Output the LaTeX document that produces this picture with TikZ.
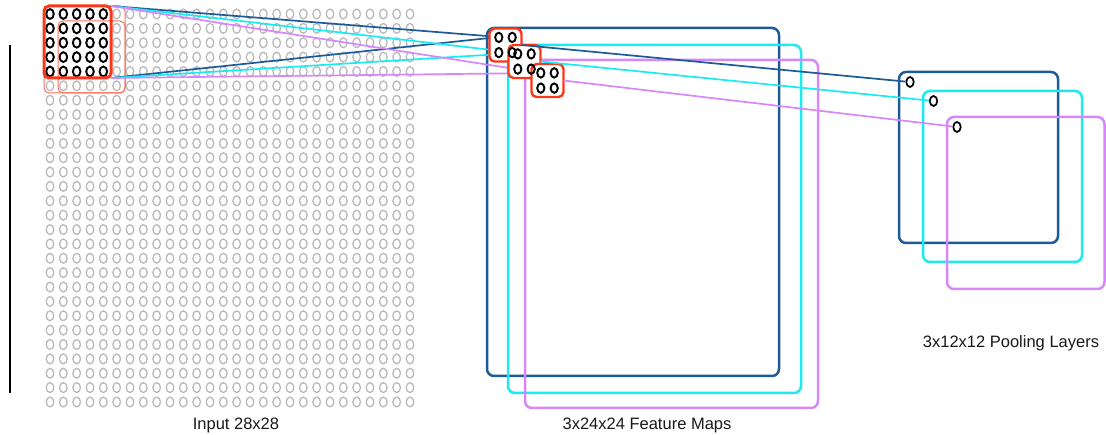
\documentclass[tikz,border=0pt]{standalone}
\usepackage{fontspec}
\setmainfont{Liberation Sans}
\usetikzlibrary{shapes.geometric}
\definecolor{fmblue}{RGB}{30,90,150}
\definecolor{fmcyan}{RGB}{25,235,240}
\definecolor{fmviolet}{RGB}{214,135,250}
\definecolor{winred}{RGB}{250,55,25}
\definecolor{thinred}{RGB}{252,110,90}
\definecolor{ringgray}{RGB}{185,185,185}
\definecolor{txt}{RGB}{25,25,25}
\begin{document}
\begin{tikzpicture}[x=1pt,y=-1pt,
  mapbox/.style={draw, line width=2.5pt, rounded corners=7pt},
  ring/.style={draw=ringgray, line width=1.3pt},
  blackring/.style={draw=black, line width=1.9pt},
  inwin/.style={draw=winred, line width=3pt, rounded corners=5pt, inner sep=0pt, outer sep=0pt},
  thinwin/.style={draw=thinred, line width=1pt, rounded corners=5pt, inner sep=0pt, outer sep=0pt},
  fwin/.style={draw=winred, fill=white, line width=2.4pt, rounded corners=5pt, inner sep=0pt, outer sep=0pt, minimum width=32pt, minimum height=33pt},
  unit/.style={ellipse, draw=black, line width=1.7pt, minimum width=7.5pt, minimum height=10pt, inner sep=0pt},
  link/.style={line width=1.7pt},
  lbl/.style={text=txt, font=\fontsize{16.5pt}{19pt}\selectfont, inner sep=0pt}
]
\useasboundingbox (0,0) rectangle (1106,435);

% left bar
\draw[line width=1.3pt] (10,45) -- (10,393);

% feature maps
\draw[mapbox, fmblue] (487,28) rectangle (779,376);
\draw[mapbox, fmcyan] (508,45) rectangle (801,393);
\draw[mapbox, fmviolet] (525,60) rectangle (818,408);

% pooling layers
\draw[mapbox, fmblue] (899,72) rectangle (1058,243);
\draw[mapbox, fmcyan] (923,91) rectangle (1082,262);
\draw[mapbox, fmviolet] (947,117) rectangle (1104.5,289);

% input grid
\foreach \i in {0,...,27} {
  \foreach \j in {0,...,27} {
    \draw[ring] (50+\i*13.333, 14+\j*14.37) ellipse [x radius=3.8pt, y radius=4.9pt];
  }
}
\foreach \i in {0,...,4} {
  \foreach \j in {0,...,4} {
    \draw[blackring] (50+\i*13.333, 14+\j*14.37) ellipse [x radius=3.8pt, y radius=4.9pt];
  }
}

% input windows
\node[thinwin, minimum width=81pt, minimum height=87pt] (win6) at (84.5,49.5) {};
\node[thinwin, minimum width=67pt, minimum height=72pt] (winD) at (91.5,57) {};
\node[inwin, minimum width=67pt, minimum height=72pt] (win0) at (77.5,42) {};

% pooling units
\node[unit] (p1) at (910,82) {};
\node[unit] (p2) at (933.5,101) {};
\node[unit] (p3) at (957,127) {};

% feature window anchors
\coordinate (f1a) at (499,37);
\coordinate (f2a) at (518,53);
\coordinate (f3a) at (541,73);

% connectors input -> feature maps
\draw[link, fmblue] (win0.north east) -- (f1a);
\draw[link, fmblue] (win0.south east) -- (f1a);
\draw[link, fmcyan] (win0.north east) -- (f2a);
\draw[link, fmcyan] (win0.south east) -- (f2a);
\draw[link, fmviolet] (win0.north east) -- (f3a);
\draw[link, fmviolet] (win0.south east) -- (f3a);

% feature windows
\node[fwin] (f1) at (505.5,45) {};
\node[fwin] (f2) at (524.5,61.5) {};
\node[fwin] (f3) at (547.5,80.5) {};

% connectors feature -> pooling
\draw[link, fmblue] (f1.east) -- (p1);
\draw[link, fmcyan] (f2.east) -- (p2);
\draw[link, fmviolet] (f3.east) -- (p3);

% units inside feature windows
\foreach \w in {f1,f2,f3} {
  \foreach \dx in {-6.7,6.7} {
    \foreach \dy in {-7.6,7.6} {
      \draw[blackring] ([shift={(\dx,\dy)}]\w.center) ellipse [x radius=3.6pt, y radius=4.7pt];
    }
  }
}

% labels
\node[lbl] (lin) at (236,425) {Input 28x28};
\node[lbl] (lfm) at (647,425) {3x24x24 Feature Maps};
\node[lbl] (lpl) at (1011,343) {3x12x12 Pooling Layers};
\end{tikzpicture}
\end{document}
